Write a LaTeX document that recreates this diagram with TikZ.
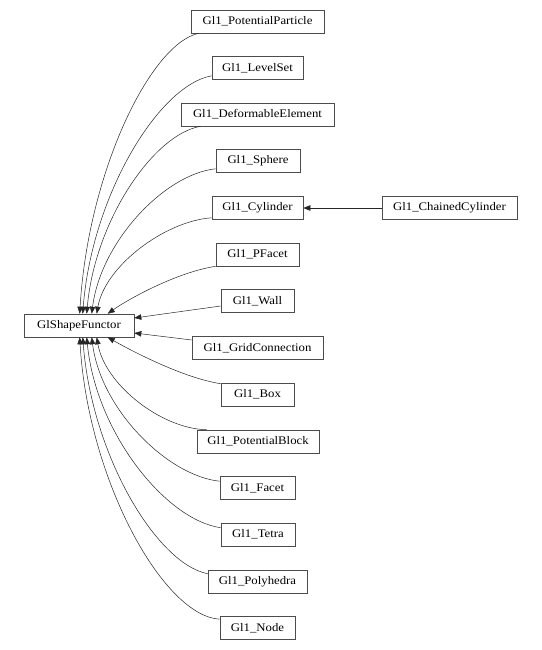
\documentclass[tikz,border=0pt]{standalone}
\usepackage{fontspec}
\setmainfont{Liberation Serif}[FakeStretch=1.1]
\usetikzlibrary{arrows.meta,calc}
\tikzset{
  cls/.style={draw=black!70, line width=0.6pt, minimum height=23pt, inner sep=0pt, font=\fontsize{11.6}{14}\selectfont, anchor=center},
  inh/.style={draw=black!85, line width=0.5pt, -{Triangle[length=7pt,width=5.5pt]}},
}
\begin{document}
\begin{tikzpicture}[x=1pt,y=-1pt]
\useasboundingbox (0,0) rectangle (541,650);
\node[cls, minimum width=133pt] (pp) at (257.5,21.5) {Gl1\_PotentialParticle};
\node[cls, minimum width=91pt]  (ls) at (257.5,68) {Gl1\_LevelSet};
\node[cls, minimum width=153pt] (de) at (257.5,114.5) {Gl1\_DeformableElement};
\node[cls, minimum width=84pt]  (sp) at (258,161) {Gl1\_Sphere};
\node[cls, minimum width=91pt]  (cy) at (257.5,208) {Gl1\_Cylinder};
\node[cls, minimum width=135pt] (cc) at (449.5,208) {Gl1\_ChainedCylinder};
\node[cls, minimum width=83pt]  (pf) at (257.5,254.5) {Gl1\_PFacet};
\node[cls, minimum width=73pt]  (wa) at (257.5,301) {Gl1\_Wall};
\node[cls, minimum width=110pt] (gsf) at (79,325.5) {GlShapeFunctor};
\node[cls, minimum width=131pt] (gc) at (257.5,348) {Gl1\_GridConnection};
\node[cls, minimum width=73pt]  (bx) at (257.5,394.5) {Gl1\_Box};
\node[cls, minimum width=122pt] (pb) at (258,441.5) {Gl1\_PotentialBlock};
\node[cls, minimum width=75pt]  (fa) at (257.5,488) {Gl1\_Facet};
\node[cls, minimum width=74pt]  (te) at (258,534.5) {Gl1\_Tetra};
\node[cls, minimum width=99pt]  (po) at (257.5,581.5) {Gl1\_Polyhedra};
\node[cls, minimum width=75pt]  (no) at (257.5,628) {Gl1\_Node};

\draw[inh] ($(pp.south west)+(8,0)$) .. controls (150,44) and (88,173) .. ($(gsf.north west)+(56,0)$);
\draw[inh] ($(ls.south west)+(0,-4)$) .. controls (159,85) and (92,195) .. ($(gsf.north west)+(59,0)$);
\draw[inh] ($(de.south west)+(20,0)$) .. controls (154,134) and (95,220) .. ($(gsf.north west)+(63,0)$);
\draw[inh] ($(sp.south west)+(0,-4)$) .. controls (165,174) and (101,241) .. ($(gsf.north west)+(68,0)$);
\draw[inh] ($(cy.south west)+(0,-2)$) .. controls (165,221) and (105,266) .. ($(gsf.north west)+(73,0)$);
\draw[inh] (pf.south west) .. controls (178,272) and (130,298) .. ($(gsf.north west)+(84,0)$);
\draw[inh] ($(wa.west)+(0,5)$) -- ($(gsf.east)+(0,-7.5)$);
\draw[inh] ($(gc.west)+(0,-8)$) -- ($(gsf.east)+(0,7.5)$);
\draw[inh] ($(bx.north west)+(0,1)$) .. controls (183,378) and (130,350) .. ($(gsf.south west)+(84,0)$);
\draw[inh] ($(pb.north west)+(10,0)$) .. controls (162,429) and (105,385) .. ($(gsf.south west)+(73,0)$);
\draw[inh] ($(fa.north west)+(0,5)$) .. controls (168,476) and (101,410) .. ($(gsf.south west)+(68,0)$);
\draw[inh] ($(te.north west)+(0,5)$) .. controls (166,520) and (96,433) .. ($(gsf.south west)+(63,0)$);
\draw[inh] ($(po.north west)+(0,4)$) .. controls (157,564) and (92,456) .. ($(gsf.south west)+(59,0)$);
\draw[inh] ($(no.north west)+(0,3)$) .. controls (163,616) and (88,479) .. ($(gsf.south west)+(56,0)$);
\draw[inh] (cc.west) -- (cy.east);
\end{tikzpicture}
\end{document}
